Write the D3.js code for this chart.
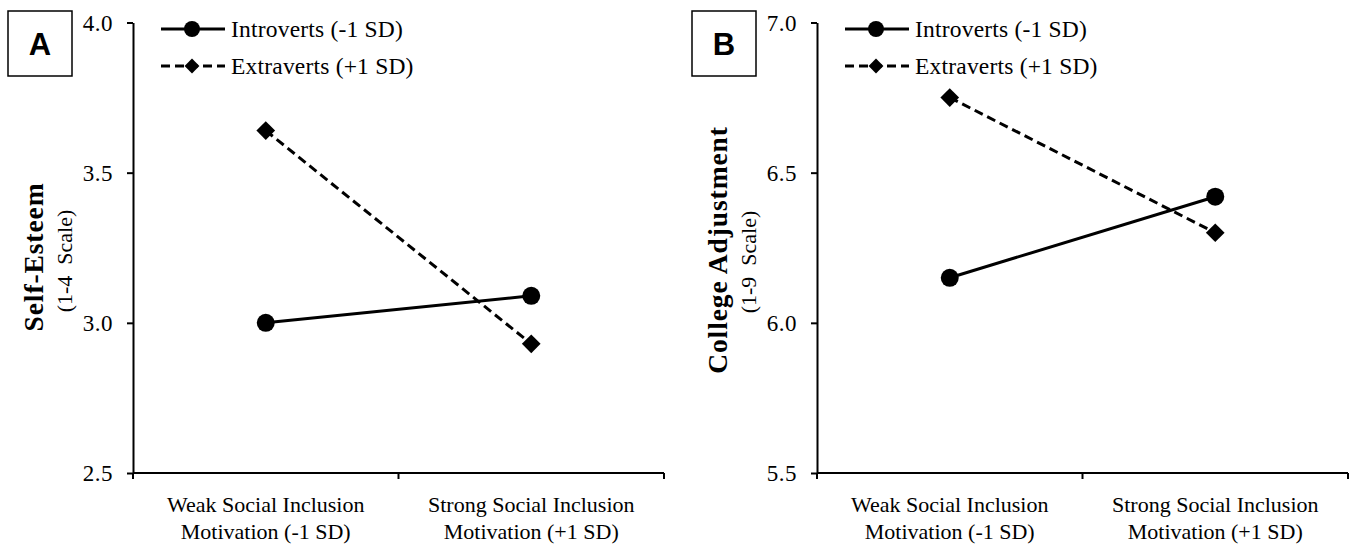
<!DOCTYPE html>
<html>
<head>
<meta charset="utf-8">
<script src="https://cdn.jsdelivr.net/npm/d3@7"></script>
<style>
  body { margin: 0; background: #fff; }
  svg text { fill: #000; font-family: "Liberation Serif", "Times New Roman", serif; }
  svg text.letter { font-family: "Liberation Sans", Arial, sans-serif; }
</style>
</head>
<body>
<div id="chart"></div>
<script>
// categories on the x axis (two lines each)
const categories = [
  ['Weak Social Inclusion', 'Motivation (-1 SD)'],
  ['Strong Social Inclusion', 'Motivation (+1 SD)']
]
const seriesNames = ['Introverts (-1 SD)', 'Extraverts (+1 SD)']

// panel A: self-esteem
const esteemIntroverts = [3.00, 3.09]
const esteemExtraverts = [3.64, 2.93]
const esteemTicks = [2.5, 3.0, 3.5, 4.0]

// panel B: college adjustment
const adjustIntroverts = [6.15, 6.42]
const adjustExtraverts = [6.75, 6.30]
const adjustTicks = [5.5, 6.0, 6.5, 7.0]

let svg = d3.select('#chart')
  .append('svg')
  .attr('width', 1350)
  .attr('height', 544)

function drawPanel(opts) {
  let g = svg.append('g')

  let x = d3.scaleBand()
    .domain(d3.range(categories.length))
    .range([opts.left, opts.left + 531])
  let y = d3.scaleLinear()
    .domain(d3.extent(opts.ticks))
    .range([473, 22.5])

  // panel letter box
  g.append('rect')
    .attr('x', opts.left - 125)
    .attr('y', 11)
    .attr('width', 64)
    .attr('height', 65)
    .attr('fill', '#fff')
    .attr('stroke', '#000')
    .attr('stroke-width', 1.5)
  g.append('text')
    .attr('class', 'letter')
    .attr('x', opts.left - 93)
    .attr('y', 55)
    .attr('text-anchor', 'middle')
    .attr('font-weight', 'bold')
    .attr('font-size', 31)
    .text(opts.letter)

  // y axis
  let yAxis = d3.axisLeft(y)
    .tickValues(opts.ticks)
    .tickFormat(d3.format('.1f'))
    .tickSize(6)
    .tickSizeOuter(0)
    .tickPadding(14)
  let ya = g.append('g')
    .attr('transform', `translate(${opts.left},0)`)
    .call(yAxis)
  ya.attr('font-family', null)
  ya.select('.domain').attr('stroke-width', 2)
  ya.selectAll('.tick line').attr('stroke-width', 2)
  ya.selectAll('.tick text')
    .attr('font-size', 23)
    .attr('letter-spacing', 0.5)
    .attr('dy', '0.34em')

  // x axis line and ticks at band edges
  let xr = x.range()
  g.append('line')
    .attr('x1', xr[0]).attr('x2', xr[1])
    .attr('y1', y.range()[0]).attr('y2', y.range()[0])
    .attr('stroke', '#000').attr('stroke-width', 2)
  g.selectAll('.xtick')
    .data(x.domain().map(d => x(d)).concat([xr[1]]))
    .enter()
    .append('line')
    .attr('class', 'xtick')
    .attr('x1', d => d).attr('x2', d => d)
    .attr('y1', y.range()[0]).attr('y2', y.range()[0] + 6)
    .attr('stroke', '#000').attr('stroke-width', 2)
  let xl = g.selectAll('.xlabel')
    .data(categories)
    .enter()
    .append('text')
    .attr('class', 'xlabel')
    .attr('text-anchor', 'middle')
    .attr('font-size', 22)
    .attr('transform', (d, i) => `translate(${x(i) + x.bandwidth() / 2},512)`)
  xl.selectAll('tspan')
    .data(d => d)
    .enter()
    .append('tspan')
    .attr('x', 0)
    .attr('y', (d, i) => i * 27)
    .text(d => d)

  // y axis title
  let yt = g.append('text')
    .attr('transform', `translate(${opts.left - 90},${opts.titleY}) rotate(-90)`)
    .attr('text-anchor', 'middle')
  yt.append('tspan')
    .attr('x', 0)
    .attr('font-weight', 'bold')
    .attr('font-size', 27.5)
    .attr('letter-spacing', 0.9)
    .text(opts.title)
  yt.append('tspan')
    .attr('x', opts.subX)
    .attr('dy', 29)
    .attr('font-size', 22)
    .attr('xml:space', 'preserve')
    .text(opts.subtitle)

  let line = d3.line()
    .x((d, i) => x(i) + x.bandwidth() / 2)
    .y(d => y(d))

  let diamond = d3.symbol().type(d3.symbolSquare)

  // extraverts: dashed with diamonds
  g.append('path')
    .datum(opts.extra)
    .attr('d', line)
    .attr('fill', 'none')
    .attr('stroke', '#000')
    .attr('stroke-width', 3)
    .attr('stroke-dasharray', '9,5')
  g.selectAll('.dia')
    .data(opts.extra)
    .enter()
    .append('path')
    .attr('class', 'dia')
    .attr('d', diamond.size(175))
    .attr('transform', (d, i) => `translate(${x(i) + x.bandwidth() / 2},${y(d)}) rotate(45)`)
    .attr('fill', '#000')

  // introverts: solid with circles
  g.append('path')
    .datum(opts.intro)
    .attr('d', line)
    .attr('fill', 'none')
    .attr('stroke', '#000')
    .attr('stroke-width', 3)
  g.selectAll('.dot')
    .data(opts.intro)
    .enter()
    .append('circle')
    .attr('class', 'dot')
    .attr('cx', (d, i) => x(i) + x.bandwidth() / 2)
    .attr('cy', d => y(d))
    .attr('r', 9)
    .attr('fill', '#000')

  // legend
  let legend = g.selectAll('.legend')
    .data(seriesNames)
    .enter()
    .append('g')
    .attr('class', 'legend')
    .attr('transform', (d, i) => `translate(${opts.left + 28},${29 + i * 37})`)
  legend.append('line')
    .attr('x1', 0).attr('x2', 64)
    .attr('stroke', '#000')
    .attr('stroke-width', 3)
    .attr('stroke-dasharray', (d, i) => i === 0 ? null : '9,5')
  legend.filter((d, i) => i === 0)
    .append('circle')
    .attr('cx', 31)
    .attr('r', 8)
    .attr('fill', '#000')
  legend.filter((d, i) => i === 1)
    .append('path')
    .attr('d', d3.symbol().type(d3.symbolSquare).size(110))
    .attr('transform', 'translate(31,0) rotate(45)')
    .attr('fill', '#000')
  legend.append('text')
    .attr('x', 70)
    .attr('dy', '0.32em')
    .attr('font-size', 23.5)
    .attr('letter-spacing', 0.2)
    .text(d => d)
}

drawPanel({
  letter: 'A',
  left: 133,
  ticks: esteemTicks,
  intro: esteemIntroverts,
  extra: esteemExtraverts,
  title: 'Self-Esteem',
  subtitle: '(1-4  Scale)',
  titleY: 257,
  subX: -4
})

drawPanel({
  letter: 'B',
  left: 817,
  ticks: adjustTicks,
  intro: adjustIntroverts,
  extra: adjustExtraverts,
  title: 'College Adjustment',
  subtitle: '(1-9  Scale)',
  titleY: 250,
  subX: -12
})
</script>
</body>
</html>
